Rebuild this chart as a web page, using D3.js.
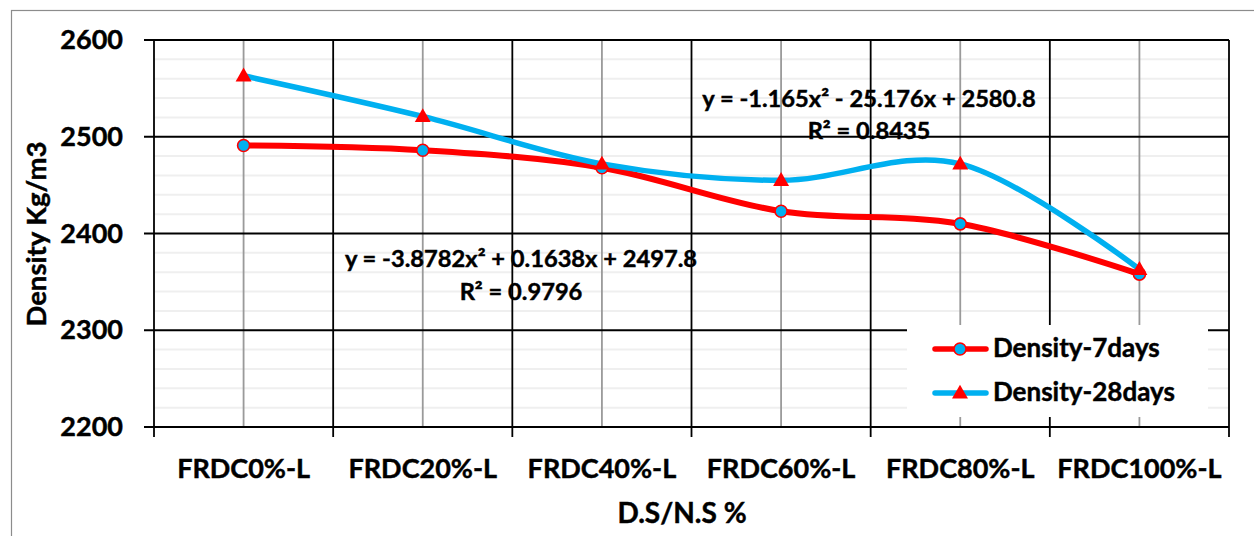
<!DOCTYPE html>
<html>
<head>
<meta charset="utf-8">
<script src="https://cdn.jsdelivr.net/npm/d3@7"></script>
<style>
  html, body { margin: 0; padding: 0; background: #ffffff; }
  svg { display: block; }
  text { font-family: Lato, "Open Sans", sans-serif; font-weight: 700; fill: #000; stroke: #000; stroke-width: 0.45px; }
</style>
</head>
<body>
<svg id="chart" width="1254" height="536"></svg>
<script>
// Mix designations (x axis)
const categories = ["FRDC0%-L", "FRDC20%-L", "FRDC40%-L", "FRDC60%-L", "FRDC80%-L", "FRDC100%-L"];
// Density, kg/m3
const density7 = [2491, 2486, 2468, 2423, 2410, 2358];
const density28 = [2563, 2521, 2472, 2455, 2472, 2363];
// Y axis ticks
const yTicks = [2200, 2300, 2400, 2500, 2600];
const yMinor = d3.range(2220, 2600, 20).filter(v => v % 100 !== 0);
// Series names and fitted trend equations
const seriesNames = ["Density-7days", "Density-28days"];
const trend7 = ["y = -3.8782x\u00B2 + 0.1638x + 2497.8", "R\u00B2 = 0.9796"];
const trend28 = ["y = -1.165x\u00B2 - 25.176x + 2580.8", "R\u00B2 = 0.8435"];

const RED = "#ff0000", BLUE = "#00b0f0";
const svg = d3.select("#chart");
const W = 1254, H = 536;
const plot = { left: 154, right: 1229, top: 40, bottom: 427 };

// Outer chart frame
svg.append("rect").attr("x", 11.5).attr("y", 10.5).attr("width", W).attr("height", H)
  .attr("fill", "#fff").attr("stroke", "#8c8c8c").attr("stroke-width", 1.2);

const x = d3.scaleBand().domain(categories).range([plot.left, plot.right]);
const cx = d => x(d) + x.bandwidth() / 2;
const y = d3.scaleLinear().domain([2200, 2600]).range([plot.bottom, plot.top]);

// Minor horizontal gridlines
svg.append("g").selectAll("line").data(yMinor).join("line")
  .attr("x1", plot.left).attr("x2", plot.right)
  .attr("y1", d => y(d)).attr("y2", d => y(d))
  .attr("stroke", "#efefef").attr("stroke-width", 2);

// Category centre lines
svg.append("g").selectAll("line").data(categories).join("line")
  .attr("x1", cx).attr("x2", cx).attr("y1", plot.top).attr("y2", plot.bottom)
  .attr("stroke", "#9a9a9a").attr("stroke-width", 1.8);

// Category boundary lines (with ticks below the axis)
const edges = categories.map(c => x(c)).concat([plot.right]);
svg.append("g").selectAll("line").data(edges).join("line")
  .attr("x1", d => d).attr("x2", d => d).attr("y1", plot.top).attr("y2", plot.bottom + 10)
  .attr("stroke", "#000").attr("stroke-width", 1.8);

// Major horizontal gridlines + left ticks
svg.append("g").selectAll("line").data(yTicks).join("line")
  .attr("x1", plot.left - 10).attr("x2", plot.right)
  .attr("y1", d => y(d)).attr("y2", d => y(d))
  .attr("stroke", "#000").attr("stroke-width", 1.8);

// Y axis labels
const yAxis = svg.append("g").attr("transform", `translate(${plot.left},0)`)
  .call(d3.axisLeft(y).tickValues(yTicks).tickFormat(d3.format("d")).tickSize(10).tickPadding(21));
yAxis.select(".domain").remove();
yAxis.selectAll(".tick line").remove();
yAxis.selectAll("text").attr("font-size", 27).style("font-family", "Lato").style("font-weight", 700);

// X axis labels
const xAxis = svg.append("g").attr("transform", `translate(0,${plot.bottom})`)
  .call(d3.axisBottom(x).tickSize(0).tickPadding(32));
xAxis.select(".domain").remove();
xAxis.selectAll("text").attr("font-size", 27).style("font-family", "Lato").style("font-weight", 700);

// Axis titles
svg.append("text").attr("x", 682).attr("y", 523).attr("text-anchor", "middle")
  .attr("font-size", 28).text("D.S/N.S %");
svg.append("text").attr("transform", "translate(46,234) rotate(-90)").attr("text-anchor", "middle")
  .attr("font-size", 27.5).text("Density Kg/m3");

// Smoothed series lines
const line = d3.line().x((d, i) => cx(categories[i])).y(d => y(d)).curve(d3.curveCardinal.tension(0));
const triangle = d3.symbol().type(d3.symbolTriangle).size(110);

svg.append("path").datum(density7).attr("d", line)
  .attr("fill", "none").attr("stroke", RED).attr("stroke-width", 6).attr("stroke-linecap", "round");
svg.append("g").selectAll("circle").data(density7).join("circle")
  .attr("cx", (d, i) => cx(categories[i])).attr("cy", d => y(d)).attr("r", 6)
  .attr("fill", BLUE).attr("stroke", RED).attr("stroke-width", 1.6);

svg.append("path").datum(density28).attr("d", line)
  .attr("fill", "none").attr("stroke", BLUE).attr("stroke-width", 5.5).attr("stroke-linecap", "round");
svg.append("g").selectAll("path").data(density28).join("path")
  .attr("d", triangle)
  .attr("transform", (d, i) => `translate(${cx(categories[i])},${y(d) + 1})`)
  .attr("fill", RED);

// Trend equation labels
function eq(lines, xc, y0, y1) {
  svg.append("text").attr("x", xc).attr("y", y0).attr("text-anchor", "middle").attr("font-size", 23.7).text(lines[0]);
  svg.append("text").attr("x", xc).attr("y", y1).attr("text-anchor", "middle").attr("font-size", 23.7).text(lines[1]);
}
eq(trend28, 869, 107, 139);
eq(trend7, 521, 267, 300);

// Legend
const lg = svg.append("g");
lg.append("rect").attr("x", 907).attr("y", 325).attr("width", 301).attr("height", 92).attr("fill", "#fff");
const rows = [
  { name: seriesNames[0], color: RED, marker: "circle", y: 349 },
  { name: seriesNames[1], color: BLUE, marker: "triangle", y: 393 }
];
rows.forEach(r => {
  lg.append("line").attr("x1", 935).attr("x2", 986).attr("y1", r.y).attr("y2", r.y)
    .attr("stroke", r.color).attr("stroke-width", 5.5).attr("stroke-linecap", "round");
  if (r.marker === "circle") {
    lg.append("circle").attr("cx", 960).attr("cy", r.y).attr("r", 6)
      .attr("fill", BLUE).attr("stroke", RED).attr("stroke-width", 1.6);
  } else {
    lg.append("path").attr("d", triangle).attr("transform", `translate(960,${r.y + 1})`).attr("fill", RED);
  }
  lg.append("text").attr("x", 993).attr("y", r.y + 8).attr("font-size", 26).text(r.name);
});
</script>
</body>
</html>
